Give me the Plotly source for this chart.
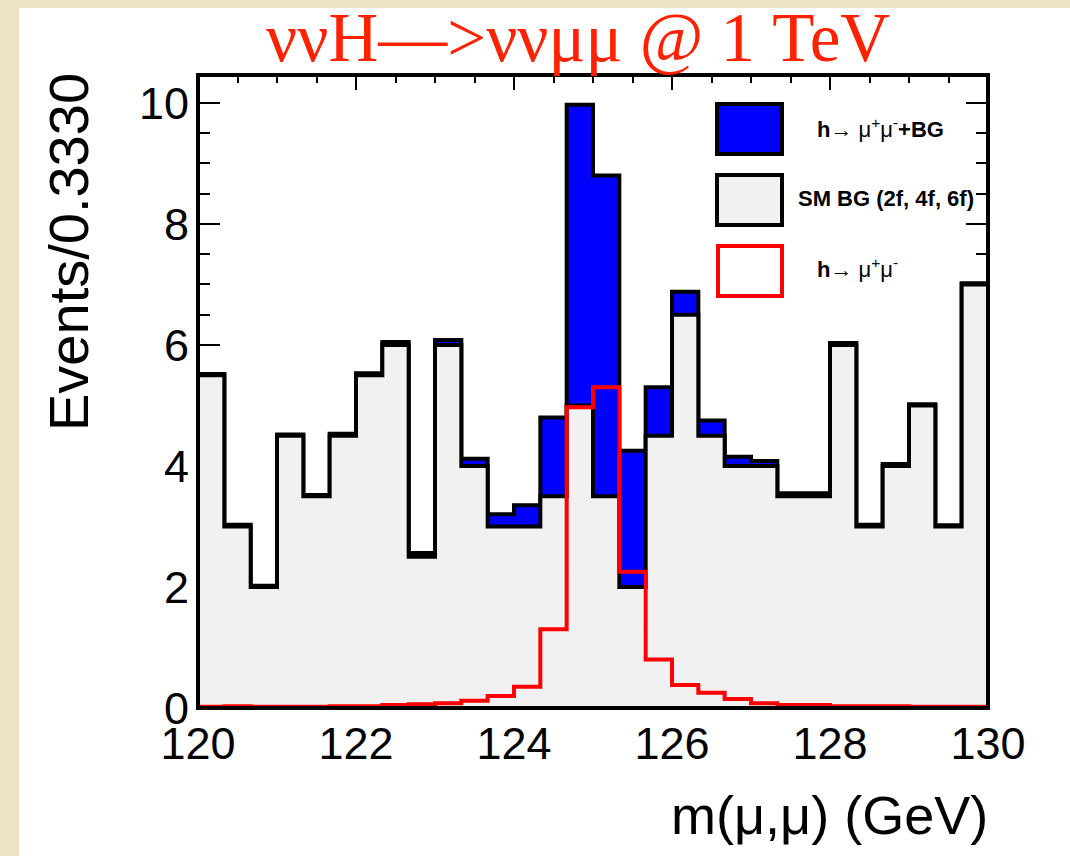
import numpy as np
import plotly.graph_objects as go

# ---- data ----
x_min, x_max, n_bins = 120.0, 130.0, 30
bin_edges = np.linspace(x_min, x_max, n_bins + 1)

bg = [5.5, 3.0, 2.0, 4.5, 3.5, 4.5, 5.5, 6.0, 2.5, 6.0,
      4.0, 3.0, 3.0, 3.5, 5.0, 3.5, 2.0, 4.5, 6.5, 4.5,
      4.0, 4.0, 3.5, 3.5, 6.0, 3.0, 4.0, 5.0, 3.0, 7.0]
sig = [0.02, 0.03, 0.02, 0.02, 0.02, 0.03, 0.03, 0.05, 0.06, 0.08,
       0.12, 0.20, 0.35, 1.30, 4.97, 5.30, 2.25, 0.80, 0.38, 0.25,
       0.15, 0.08, 0.05, 0.05, 0.03, 0.03, 0.03, 0.02, 0.02, 0.02]
total = list(np.array(bg) + np.array(sig))

x_ticks = [120, 122, 124, 126, 128, 130]
y_ticks = [0, 2, 4, 6, 8, 10]

title_text = "ννH—>ννμμ @ 1 TeV"
y_title = "Events/0.3330"
x_title = "m(μ,μ) (GeV)"
legend_labels = ["<b>h</b>→ μ<sup>+</sup>μ<sup>-</sup><b>+BG</b>",
                 "<b>SM BG (2f, 4f, 6f)</b>",
                 "<b>h</b>→ μ<sup>+</sup>μ<sup>-</sup>"]

# ---- layout geometry (pixels) ----
W, H = 1070, 856
L, R, T, B = 198, 82, 75, 148
PW, PH = W - L - R, H - T - B


def px(x):
    return (x - L) / PW


def py(y):
    return (H - B - y) / PH


def step(vals):
    return list(vals) + [vals[-1]]


fig = go.Figure()
fig.add_trace(go.Scatter(x=bin_edges, y=step(total), mode="lines", line_shape="hv",
                         line=dict(color="black", width=4), fill="tozeroy",
                         fillcolor="#0000ff", showlegend=False, hoverinfo="skip"))
fig.add_trace(go.Scatter(x=bin_edges, y=step(bg), mode="lines", line_shape="hv",
                         line=dict(color="black", width=4), fill="tozeroy",
                         fillcolor="#f1f1f1", showlegend=False, hoverinfo="skip"))
fig.add_trace(go.Scatter(x=bin_edges, y=step(sig), mode="lines", line_shape="hv",
                         line=dict(color="#ff0000", width=4),
                         showlegend=False, hoverinfo="skip"))

tickfont = dict(family="Liberation Sans, Arial, sans-serif", size=45, color="black")

fig.update_xaxes(range=[x_min, x_max], tickvals=x_ticks, ticks="inside", ticklen=15,
                 tickwidth=2, tickcolor="black", mirror="ticks", showline=False,
                 showgrid=False, zeroline=False, layer="below traces",
                 tickfont=tickfont, ticklabelstandoff=5,
                 minor=dict(dtick=0.5, ticks="inside", ticklen=8, tickwidth=2,
                            tickcolor="black", showgrid=False))
fig.update_yaxes(range=[0, 10.46], tickvals=y_ticks, ticks="inside", ticklen=22,
                 tickwidth=2, tickcolor="black", mirror="ticks", showline=False,
                 showgrid=False, zeroline=False, layer="below traces",
                 tickfont=tickfont, ticklabelstandoff=8,
                 minor=dict(dtick=0.5, ticks="inside", ticklen=12, tickwidth=2,
                            tickcolor="black", showgrid=False))

shapes = [
    # white page area over beige border
    dict(type="rect", xref="paper", yref="paper", x0=px(19), x1=px(W + 5),
         y0=py(8), y1=py(H + 5), fillcolor="white", line=dict(width=0), layer="below"),
    # frame
    dict(type="rect", xref="paper", yref="paper", x0=0, x1=1, y0=0, y1=1,
         line=dict(color="black", width=4), layer="above"),
    # legend boxes
    dict(type="rect", xref="paper", yref="paper", x0=px(717), x1=px(782),
         y0=py(154), y1=py(104), fillcolor="#0000ff", line=dict(color="black", width=4)),
    dict(type="rect", xref="paper", yref="paper", x0=px(717), x1=px(782),
         y0=py(225), y1=py(175), fillcolor="#f1f1f1", line=dict(color="black", width=4)),
    dict(type="rect", xref="paper", yref="paper", x0=px(718), x1=px(782),
         y0=py(296), y1=py(246), fillcolor="white", line=dict(color="#ff0000", width=4)),
]

legfont = dict(family="Liberation Sans, Arial, sans-serif", size=22, color="black")
annotations = [
    dict(text=title_text, xref="paper", yref="paper", x=px(578), y=py(38),
         xanchor="center", yanchor="middle", showarrow=False,
         font=dict(family="Liberation Serif, Times New Roman, serif", size=69, color="#ff2200")),
    dict(text=y_title, xref="paper", yref="paper", x=px(68), y=py(252),
         xanchor="center", yanchor="middle", showarrow=False, textangle=-90,
         font=dict(family="Liberation Sans, Arial, sans-serif", size=56, color="black")),
    dict(text=x_title, xref="paper", yref="paper", x=px(990), y=py(815),
         xanchor="right", yanchor="middle", showarrow=False,
         font=dict(family="Liberation Sans, Arial, sans-serif", size=54, color="black")),
    dict(text=legend_labels[0], xref="paper", yref="paper", x=px(815), y=py(128),
         xanchor="left", yanchor="middle", showarrow=False, font=legfont),
    dict(text=legend_labels[1], xref="paper", yref="paper", x=px(796), y=py(199),
         xanchor="left", yanchor="middle", showarrow=False, font=legfont),
    dict(text=legend_labels[2], xref="paper", yref="paper", x=px(815), y=py(268),
         xanchor="left", yanchor="middle", showarrow=False, font=legfont),
]

fig.update_layout(width=W, height=H, margin=dict(l=L, r=R, t=T, b=B),
                  paper_bgcolor="#efe3c7", plot_bgcolor="white",
                  shapes=shapes, annotations=annotations, showlegend=False)

fig.write_html("out.html")
